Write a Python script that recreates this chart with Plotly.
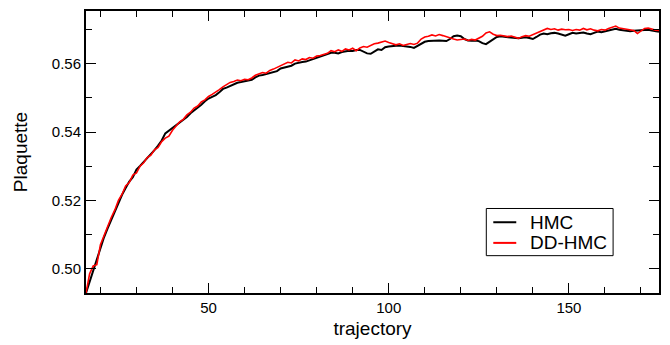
import plotly.graph_objects as go

traj = list(range(16, 176))

hmc = [
    0.4929, 0.4962, 0.4996, 0.5030, 0.5062, 0.5092, 0.5118, 0.5143, 0.5170, 0.5196,
    0.5216, 0.5236, 0.5255, 0.5268, 0.5290, 0.5301, 0.5312, 0.5322, 0.5334, 0.5347,
    0.5360, 0.5375, 0.5396, 0.5404, 0.5410, 0.5419, 0.5427, 0.5434, 0.5444, 0.5455,
    0.5463, 0.5472, 0.5480, 0.5490, 0.5498, 0.5503, 0.5508, 0.5516, 0.5526, 0.5530,
    0.5535, 0.5538, 0.5544, 0.5546, 0.5548, 0.5550, 0.5553, 0.5560, 0.5565, 0.5567,
    0.5570, 0.5574, 0.5576, 0.5578, 0.5586, 0.5589, 0.5591, 0.5594, 0.5600, 0.5603,
    0.5605, 0.5606, 0.5610, 0.5614, 0.5616, 0.5622, 0.5626, 0.5628, 0.5632, 0.5632,
    0.5630, 0.5634, 0.5637, 0.5638, 0.5637, 0.5640, 0.5640, 0.5636, 0.5630, 0.5629,
    0.5636, 0.5642, 0.5640, 0.5648, 0.5650, 0.5652, 0.5652, 0.5653, 0.5652, 0.5651,
    0.5649, 0.5646, 0.5652, 0.5660, 0.5664, 0.5666, 0.5667, 0.5667, 0.5668, 0.5667,
    0.5666, 0.5672, 0.5680, 0.5682, 0.5680, 0.5672, 0.5668, 0.5667, 0.5668, 0.5666,
    0.5660, 0.5657, 0.5664, 0.5672, 0.5678, 0.5680, 0.5679, 0.5678, 0.5677, 0.5676,
    0.5674, 0.5676, 0.5677, 0.5675, 0.5672, 0.5678, 0.5685, 0.5688, 0.5686, 0.5689,
    0.5690, 0.5688, 0.5684, 0.5682, 0.5686, 0.5690, 0.5688, 0.5690, 0.5691, 0.5688,
    0.5686, 0.5690, 0.5694, 0.5692, 0.5694, 0.5697, 0.5700, 0.5702, 0.5699, 0.5697,
    0.5696, 0.5695, 0.5696, 0.5697, 0.5698, 0.5700, 0.5699, 0.5697, 0.5694, 0.5693,
]

dd_hmc = [
    0.4929, 0.4985, 0.5008, 0.5012, 0.5070, 0.5098, 0.5120, 0.5150, 0.5172, 0.5200,
    0.5218, 0.5242, 0.5252, 0.5274, 0.5280, 0.5300, 0.5310, 0.5325, 0.5332, 0.5348,
    0.5355, 0.5372, 0.5382, 0.5388, 0.5405, 0.5418, 0.5430, 0.5437, 0.5450, 0.5458,
    0.5470, 0.5476, 0.5488, 0.5494, 0.5504, 0.5510, 0.5516, 0.5524, 0.5532, 0.5538,
    0.5545, 0.5548, 0.5552, 0.5550, 0.5554, 0.5553, 0.5558, 0.5566, 0.5570, 0.5574,
    0.5572, 0.5580, 0.5584, 0.5589, 0.5596, 0.5600, 0.5604, 0.5602, 0.5611, 0.5608,
    0.5614, 0.5612, 0.5618, 0.5616, 0.5622, 0.5624, 0.5628, 0.5630, 0.5638, 0.5635,
    0.5640, 0.5636, 0.5643, 0.5640, 0.5645, 0.5638, 0.5646, 0.5650, 0.5648, 0.5654,
    0.5658, 0.5660, 0.5664, 0.5666, 0.5662, 0.5658, 0.5655, 0.5658, 0.5653, 0.5656,
    0.5659, 0.5656, 0.5660, 0.5672, 0.5678, 0.5680, 0.5684, 0.5681, 0.5685, 0.5682,
    0.5678, 0.5675, 0.5672, 0.5669, 0.5670, 0.5672, 0.5668, 0.5671, 0.5669, 0.5674,
    0.5680, 0.5690, 0.5693, 0.5686, 0.5682, 0.5683, 0.5680, 0.5679, 0.5681, 0.5677,
    0.5674, 0.5679, 0.5682, 0.5680, 0.5685, 0.5688, 0.5694, 0.5700, 0.5703, 0.5700,
    0.5702, 0.5698, 0.5701, 0.5699, 0.5700, 0.5697, 0.5700, 0.5698, 0.5703, 0.5699,
    0.5702, 0.5698, 0.5696, 0.5700, 0.5698, 0.5703, 0.5706, 0.5710, 0.5704, 0.5702,
    0.5700, 0.5699, 0.5697, 0.5688, 0.5695, 0.5703, 0.5704, 0.5700, 0.5698, 0.5697,
]

series_names = ["HMC", "DD-HMC"]
series_colors = ["black", "red"]

x_range = [16, 175]
y_range = [0.4929, 0.5754]

fig = go.Figure()
fig.add_trace(go.Scatter(x=traj, y=hmc, mode="lines", name=series_names[0],
                         line=dict(color=series_colors[0], width=2)))
fig.add_trace(go.Scatter(x=traj, y=dd_hmc, mode="lines", name=series_names[1],
                         line=dict(color=series_colors[1], width=1.6)))

font_family = "Liberation Sans, Arial, sans-serif"

# custom legend box (paper coordinates)
box = dict(x0=0.6986, x1=0.9199, y0=0.1324, y1=0.2997)
entry_y = [0.2509, 0.1777]
shapes = [dict(type="rect", xref="paper", yref="paper", **box,
               line=dict(color="black", width=1), fillcolor="white", layer="above")]
annotations = []
for name, color, yy in zip(series_names, series_colors, entry_y):
    shapes.append(dict(type="line", xref="paper", yref="paper",
                       x0=0.7108, x1=0.7509, y0=yy, y1=yy,
                       line=dict(color=color, width=2), layer="above"))
    annotations.append(dict(xref="paper", yref="paper", x=0.7718, y=yy,
                            xanchor="left", yanchor="middle", showarrow=False,
                            text=name, font=dict(size=19, family=font_family, color="black")))

fig.update_layout(
    width=670, height=345,
    margin=dict(l=86, r=10, t=9, b=49),
    paper_bgcolor="white", plot_bgcolor="white",
    font=dict(family=font_family, color="black", size=15),
    showlegend=False,
    shapes=shapes,
    annotations=annotations,
)

fig.update_xaxes(
    range=x_range, showgrid=False, zeroline=False,
    showline=True, linecolor="black", linewidth=2, mirror="allticks",
    ticks="inside", ticklen=10, tickwidth=1, tickcolor="black",
    tick0=0, dtick=50,
    minor=dict(ticks="inside", ticklen=6, tickwidth=1, tickcolor="black", dtick=10, tick0=0, showgrid=False),
    tickfont=dict(size=15),
    title=dict(text="trajectory", font=dict(size=19), standoff=7),
)
fig.update_yaxes(
    range=y_range, showgrid=False, zeroline=False,
    showline=True, linecolor="black", linewidth=2, mirror="allticks",
    ticks="inside", ticklen=10, tickwidth=1, tickcolor="black",
    tick0=0, dtick=0.02, tickformat=".2f",
    minor=dict(ticks="inside", ticklen=6, tickwidth=1, tickcolor="black", dtick=0.01, tick0=0, showgrid=False),
    tickfont=dict(size=15),
    title=dict(text="Plaquette", font=dict(size=19), standoff=19),
)

fig.write_html("out.html")
